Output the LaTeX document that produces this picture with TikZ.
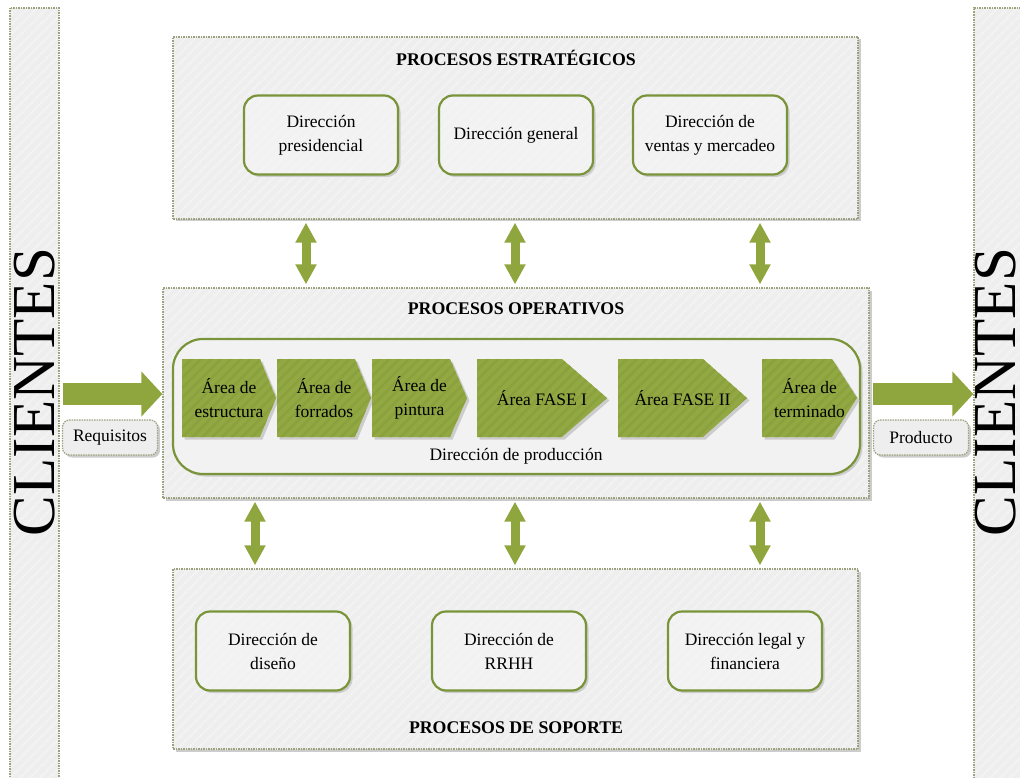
\documentclass[tikz,border=0pt]{standalone}
\usepackage{fontspec}
\setmainfont{Liberation Serif}
\usetikzlibrary{arrows.meta,shadows,patterns.meta,fit}

\definecolor{boxfill}{HTML}{EEEEEE}
\definecolor{boxstripe}{HTML}{F4F4F4}
\definecolor{dashline}{HTML}{9AA37E}
\definecolor{olive}{HTML}{7A943A}
\definecolor{innerfill}{HTML}{F2F2F2}
\definecolor{chevgreen}{HTML}{91A843}
\definecolor{chevstripe}{HTML}{8AA13E}
\definecolor{arrowgreen}{HTML}{8FA63F}
\definecolor{tagfill}{HTML}{EEEEEE}

% one green process step: name, left x, shoulder x, tip x, label
\newcommand\processstep[5]{%
  \path[chevron] (#2,359) -- (#3,359) -- (#4,398) -- (#3,437) -- (#2,437) -- cycle;
  \node[txt] (#1) at ({(#2+#4)/2},398) {#5};}

\begin{document}
\begin{tikzpicture}[x=1pt,y=-1pt,
  txt/.style={font=\fontsize{17.5}{24}\selectfont, align=center, text=black, inner sep=0pt},
  title/.style={font=\bfseries\fontsize{17.8}{24}\selectfont, text=black, inner sep=0pt},
  softshadow/.style={drop shadow={shadow xshift=2.5pt, shadow yshift=-2.5pt, fill=black!20, opacity=1}},
  stripes/.style={preaction={pattern={Lines[angle=45,distance=7pt,line width=2.5pt]}, pattern color=#1}},
  bar/.style={preaction={fill=boxfill}, stripes=boxstripe, draw=dashline, line width=1.3pt,
    dash pattern=on 1.5pt off 1pt, inner sep=0pt},
  outerbox/.style={softshadow, bar},
  dirbox/.style={txt, softshadow, preaction={fill=innerfill}, stripes=boxstripe,
    rounded corners=14pt, draw=olive, line width=2.2pt, minimum width=154pt, minimum height=79pt},
  prodbox/.style={softshadow, preaction={fill=innerfill}, rounded corners=30pt,
    draw=olive, line width=2.2pt, inner sep=0pt},
  chevron/.style={softshadow, preaction={fill=chevgreen}, stripes=chevstripe},
  tagbox/.style={txt, softshadow, preaction={fill=tagfill}, rounded corners=7pt, draw=dashline,
    line width=1.2pt, dash pattern=on 1.5pt off 1pt, minimum width=95pt, minimum height=35pt},
  clitext/.style={font=\fontsize{61}{61}\selectfont, rotate=90, inner sep=0pt, text=black},
  dblarrow/.style={draw=arrowgreen, line width=9pt,
    {Triangle[length=20pt,width=20pt]}-{Triangle[length=20pt,width=20pt]},
    shorten <=3pt, shorten >=3pt},
  bigarrow/.style={draw=arrowgreen, line width=22pt, -{Triangle[length=21pt,width=44pt]}},
]
\useasboundingbox (0,0) rectangle (1020,778);

% customer bars on both sides
\node[bar, fit={(10,8) (59,790)}] (cliL) {};
\node[bar, fit={(974,8) (1030,790)}] (cliR) {};
\node[clitext] (cliLt) at (35,392) {CLIENTES};
\node[clitext] (cliRt) at (996,392) {CLIENTES};

% strategic processes
\node[outerbox, fit={(173,37) (858,219)}] (est) {};
\node[title] (estT) at (516,58) {PROCESOS ESTRATÉGICOS};
\node[dirbox] (pres) at (321,135) {Dirección\\presidencial};
\node[dirbox] (gen) at (516,135) {Dirección general};
\node[dirbox] (ven) at (710,135) {Dirección de\\ventas y mercadeo};

% operative processes
\node[outerbox, fit={(163,288) (869,498)}] (ops) {};
\node[title] (opsT) at (516,309) {PROCESOS OPERATIVOS};
\node[prodbox, fit={(173,339) (860,474)}] (prod) {};
\node[txt] (prodT) at (516,456) {Dirección de producción};

\processstep{c1}{182}{260}{276}{Área de\\estructura}
\processstep{c2}{277}{355}{371}{Área de\\forrados}
\processstep{c3}{372}{450}{467}{Área de\\pintura}
\processstep{c4}{477}{562}{607}{Área FASE I}
\processstep{c5}{618}{703}{747}{Área FASE II}
\processstep{c6}{762}{832}{857}{Área de\\terminado}

% support processes
\node[outerbox, fit={(173,569) (858,749)}] (sop) {};
\node[title] (sopT) at (516,728) {PROCESOS DE SOPORTE};
\node[dirbox] (dis) at (273,651) {Dirección de\\diseño};
\node[dirbox] (rrhh) at (509,651) {Dirección de\\RRHH};
\node[dirbox] (leg) at (745,651) {Dirección legal y\\financiera};

% links between the process levels
\coordinate (a1) at (306,0);
\coordinate (a2) at (515,0);
\coordinate (a3) at (760,0);
\coordinate (b1) at (255,0);
\draw[dblarrow] (est.south -| a1) -- (ops.north -| a1);
\draw[dblarrow] (est.south -| a2) -- (ops.north -| a2);
\draw[dblarrow] (est.south -| a3) -- (ops.north -| a3);
\draw[dblarrow] (ops.south -| b1) -- (sop.north -| b1);
\draw[dblarrow] (ops.south -| a2) -- (sop.north -| a2);
\draw[dblarrow] (ops.south -| a3) -- (sop.north -| a3);

% customer input and output
\coordinate (flow) at (0,394);
\draw[bigarrow, shorten <=3pt] (cliL.east |- flow) -- (ops.west |- flow);
\draw[bigarrow, shorten <=3pt] (ops.east |- flow) -- (cliR.west |- flow);
\node[tagbox] (req) at (110,437.5) {Requisitos};
\node[tagbox] (prodout) at (921,437.5) {Producto};
\end{tikzpicture}
\end{document}
